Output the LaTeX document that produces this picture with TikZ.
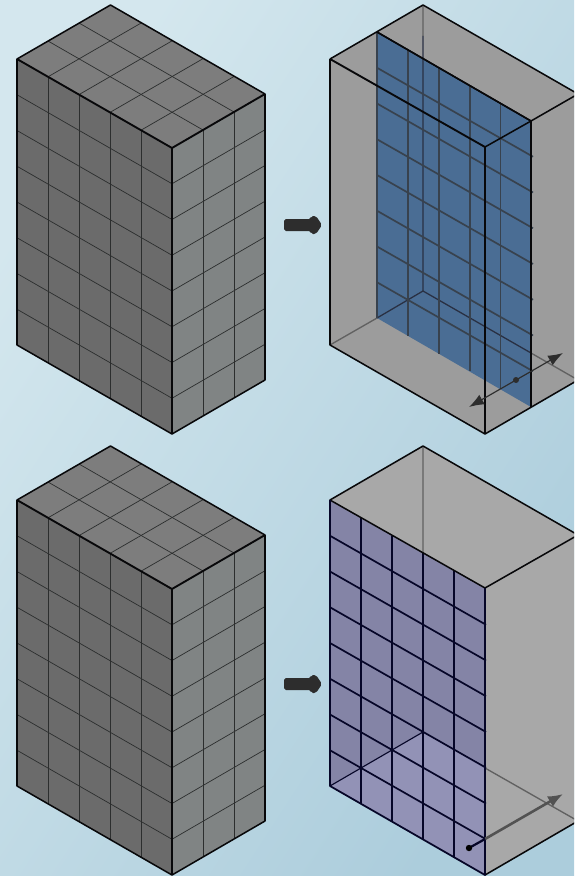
\documentclass[tikz,border=0pt]{standalone}
\usepackage{xcolor}
\usetikzlibrary{arrows.meta}
\definecolor{skyA}{RGB}{212,231,238}
\definecolor{skyB}{RGB}{172,205,220}
\definecolor{ink}{RGB}{8,8,10}
\definecolor{cellline}{RGB}{44,46,46}
\definecolor{sideL}{RGB}{107,107,107}
\definecolor{sideR}{RGB}{128,132,132}
\definecolor{sideT}{RGB}{125,125,125}
\definecolor{wallA}{RGB}{156,156,156}
\definecolor{sliceblue}{RGB}{74,109,148}
\definecolor{sliceline}{RGB}{56,66,78}
\definecolor{wallB}{RGB}{168,168,168}
\definecolor{plate}{RGB}{132,132,166}
\definecolor{plateLow}{RGB}{146,146,182}
\definecolor{navy}{RGB}{6,6,40}
\definecolor{arrowgray}{RGB}{45,45,45}
\begin{document}
\begin{tikzpicture}[x=0.03cm,y=-0.03cm,line join=round,
  edge/.style={draw=ink,line width=1.3pt},
  cell/.style={draw=cellline,line width=0.6pt},
  slicecell/.style={draw=sliceline,line width=1.45pt},
  platecell/.style={draw=navy,line width=1.45pt},
  hint/.style={draw=black!62,line width=1.15pt},
  tip/.style={-{Latex[length=15*0.85pt,width=12*0.85pt]}},
  bigarrow/.style={fill=arrowgray,rounded corners=1.6pt}]
  \clip (0,0) rectangle (574,876);
  \shade[left color=skyA,right color=skyB,shading angle=57] (0,0) rectangle (574,876);
  % solid blocks, left column
  \foreach \oy in {0,441} {
    \begin{scope}[shift={(0,\oy)}]
      \fill[sideT] (17,59)--(110.5,5)--(265,94)--(172,148)--cycle;
      \fill[sideL] (17,59)--(172,148)--(172,434)--(17,345)--cycle;
      \fill[sideR] (172,148)--(265,94)--(265,380)--(172,434)--cycle;
      \foreach \j in {1,...,4} {
        \draw[cell] ({17+31*\j},{59+17.8*\j})--++(93.5,-54);
        \draw[cell] ({17+31*\j},{59+17.8*\j})--++(0,286);
      }
      \foreach \k in {1,2} {
        \draw[cell] ({17+31*\k},{59-18*\k})--++(155,89);
        \draw[cell] ({172+31*\k},{148-18*\k})--++(0,286);
      }
      \foreach \i in {1,...,7} {
        \draw[cell] (17,{59+35.75*\i})--(172,{148+35.75*\i})--(265,{94+35.75*\i});
      }
      \draw[edge] (17,59)--(110.5,5)--(265,94)--(265,380)--(172,434)--(17,345)--cycle;
      \draw[edge,line width=1.6pt] (17,59)--(172,148)--(265,94) (172,148)--(172,434);
    \end{scope}
  }
  \foreach \ay in {225,684} {
    \path[bigarrow] (284,{\ay-6})--(311,{\ay-6})--(311,{\ay-9})--(316,{\ay-9})--(322,\ay)--(316,{\ay+9})--(311,{\ay+9})--(311,{\ay+6})--(284,{\ay+6})--cycle;
  }
  % cut box with slice
  \fill[wallA] (330,59)--(423,5)--(578,94)--(578,380)--(485,434)--(330,345)--cycle;
  \fill[sliceblue] (377,32)--(531,121)--(531,407)--(377,318)--cycle;
  \draw[hint] (423,5)--(423,36) (330,345)--(377,318) (531,353)--(578,380);
  \draw[sliceline!70!navy,line width=1.1pt] (423,36)--(423,291)--(377,318) (423,291)--(531,353);
  \foreach \i in {0,...,5} {
    \draw[slicecell] ({377+30.9*\i},{32+17.8*\i})--++(0,286);
  }
  \foreach \i in {1,...,7} {
    \draw[slicecell] (377,{32+35.75*\i})--(533,{121+35.75*\i});
  }
  \draw[edge] (330,59)--(423,5)--(578,94)--(531,121)--(377,32);
  \draw[edge] (377,32)--(531,121)--(531,407);
  \draw[edge,line width=1.6pt] (330,59)--(485,147)--(485,434);
  \draw[edge] (485,147)--(531,121) (330,59)--(330,345)--(485,434)--(578,380);
  \draw[arrowgray,line width=1pt,{Latex[length=15*0.85pt,width=11*0.85pt]}-{Latex[length=15*0.85pt,width=11*0.85pt]}] (469,407)--(563,353);
  \fill[arrowgray] (516,380) circle (3);
  % cut box with front plate
  \fill[wallB] (330,500)--(423,446)--(578,535)--(578,821)--(485,875)--(330,786)--cycle;
  \draw[hint] (423,446)--(423,553) (485,768)--(578,821);
  \fill[plate] (330,500)--(485,588)--(485,875)--(330,786)--cycle;
  \fill[plateLow] (330,786)--(423,732)--(485,768)--(485,875)--cycle;
  \draw[navy,line width=0.95pt] (330,786)--(423,732);
  \foreach \i in {1,...,4} {
    \draw[platecell] ({330+31*\i},{500+17.8*\i})--++(0,286);
  }
  \foreach \i in {1,...,7} {
    \draw[platecell] (330,{500+35.75*\i})--(486,{589+35.75*\i});
  }
  \draw[edge] (330,500)--(423,446)--(578,535)--(485,588)--cycle;
  \draw[edge] (485,875)--(578,821);
  \draw[edge,draw=navy,line width=1.5pt] (330,500)--(330,786)--(485,875)--(485,588);
  \draw[black!68,line width=2.2pt,tip] (485,839)--(563,794);
  \draw[navy,line width=1.9pt] (469,848)--(485,839);
  \fill[black] (469,848) circle (3.2);
\end{tikzpicture}
\end{document}
